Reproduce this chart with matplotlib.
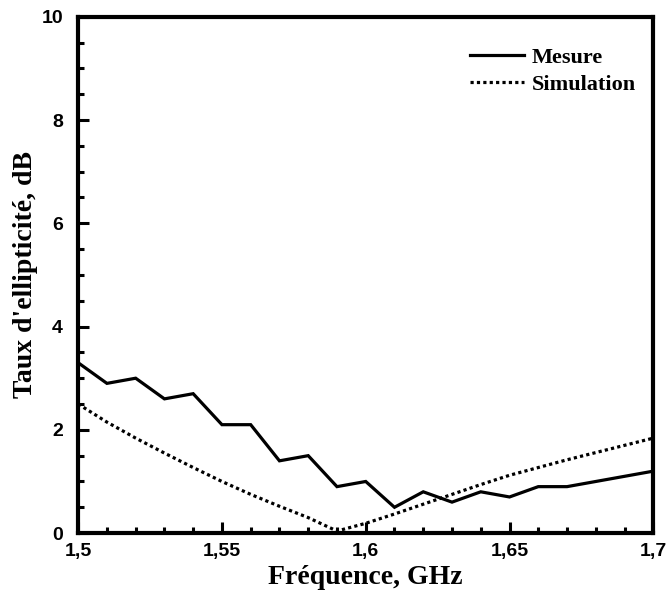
import numpy as np
import matplotlib
matplotlib.use("Agg")
import matplotlib.pyplot as plt
from matplotlib.ticker import MultipleLocator

# frequency (GHz), 0.01 step
freq = [1.50, 1.51, 1.52, 1.53, 1.54, 1.55, 1.56, 1.57, 1.58, 1.59, 1.60,
        1.61, 1.62, 1.63, 1.64, 1.65, 1.66, 1.67, 1.68, 1.69, 1.70]
# measured axial ratio (dB)
mesure = [3.3, 2.9, 3.0, 2.6, 2.7, 2.1, 2.1, 1.4, 1.5, 0.9, 1.0,
          0.5, 0.8, 0.6, 0.8, 0.7, 0.9, 0.9, 1.0, 1.1, 1.2]
# simulated axial ratio (dB)
simulation = [2.5, 2.15, 1.84, 1.55, 1.27, 1.0, 0.75, 0.52, 0.3, 0.04, 0.19,
              0.37, 0.56, 0.75, 0.94, 1.12, 1.27, 1.42, 1.56, 1.70, 1.84]

xticks = [1.5, 1.55, 1.6, 1.65, 1.7]
xtick_labels = ["1,5", "1,55", "1,6", "1,65", "1,7"]

fig = plt.figure(figsize=(6.68, 5.99), dpi=100)
ax = fig.add_axes([0.117, 0.110, 0.861, 0.862])

ax.plot(freq, mesure, color="black", lw=2.3, label="Mesure", solid_joinstyle="miter")
ax.plot(freq, simulation, color="black", lw=2.3, linestyle=(0, (1, 1)), label="Simulation")

ax.set_xlim(1.5, 1.7)
ax.set_ylim(0, 10)
ax.set_xticks(xticks)
ax.set_xticklabels(xtick_labels)
ax.xaxis.set_minor_locator(MultipleLocator(0.01))
ax.yaxis.set_major_locator(MultipleLocator(2))
ax.yaxis.set_minor_locator(MultipleLocator(0.5))

for s in ax.spines.values():
    s.set_linewidth(3)

ax.tick_params(which="major", direction="in", length=8, width=2.2)
ax.tick_params(which="minor", direction="in", length=4, width=2.2)
ax.tick_params(axis="x", which="major", pad=7)
ax.tick_params(axis="y", which="major", pad=11)
for lab in ax.get_xticklabels() + ax.get_yticklabels():
    lab.set_fontfamily("Liberation Sans")
    lab.set_fontweight("bold")
    lab.set_fontsize(14)

ax.set_xlabel("Fréquence, GHz", family="Liberation Serif", fontweight="bold",
              fontsize=20, labelpad=4)
ax.set_ylabel("Taux d'ellipticité, dB", family="Liberation Serif", fontweight="bold",
              fontsize=20, labelpad=2)

leg = ax.legend(loc="upper right", bbox_to_anchor=(1.0, 0.975), frameon=False,
                handlelength=2.4, handletextpad=0.35, labelspacing=0.3,
                borderaxespad=0.4,
                prop={"family": "Liberation Serif", "weight": "bold", "size": 16})

fig.savefig("out.png", dpi=100)
